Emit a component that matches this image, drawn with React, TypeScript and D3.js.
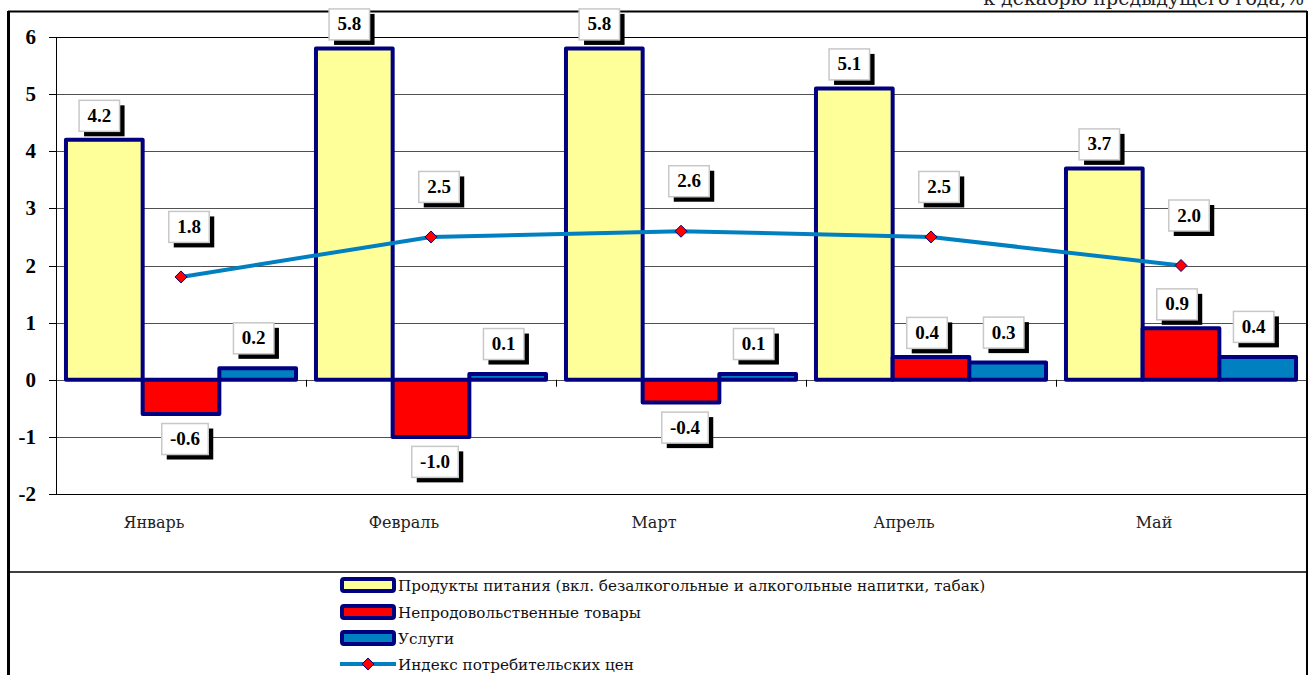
import * as d3 from "d3"

const months = ["Январь", "Февраль", "Март", "Апрель", "Май"]
const food = [4.2, 5.8, 5.8, 5.1, 3.7]
const nonFood = [-0.6, -1.0, -0.4, 0.4, 0.9]
const services = [0.2, 0.1, 0.1, 0.3, 0.4]
const cpi = [1.8, 2.5, 2.6, 2.5, 2.0]
const yTicks = [-2, -1, 0, 1, 2, 3, 4, 5, 6]

const seriesNames = [
  "Продукты питания (вкл. безалкогольные и алкогольные напитки, табак)",
  "Непродовольственные товары",
  "Услуги",
  "Индекс потребительских цен",
]
const subtitle = "к декабрю предыдущего года,%"

const W = 1309
const H = 675
const navy = "#000080"
const barColors = ["#FFFF99", "#FF0000", "#0080C0"]
const lineColor = "#0080C0"
const numFont = "Liberation Serif, Times New Roman, serif"
const textFont = "DejaVu Serif, serif"

// rough width of a bold 19px label
const labelWidth = (s: string) =>
  s.split("").reduce((w, c) => w + (c === "." ? 4.5 : c === "-" ? 6 : 9), 0) + 18

const fmt = (v: number) => d3.format(".1f")(v).replace("\u2212", "-")

function Label({ cx, cy, text }: { cx: number; cy: number; text: string }) {
  const w = labelWidth(text)
  const h = 31
  return (
    <g>
      <rect x={cx - w / 2 + 5} y={cy - h / 2 + 5} width={w} height={h} fill="#000" />
      <rect x={cx - w / 2} y={cy - h / 2} width={w} height={h} fill="#fff" stroke="#c8c8c8" strokeWidth={1.5} />
      <text
        x={cx}
        y={cy + 6}
        textAnchor="middle"
        style={{ fontFamily: numFont, fontWeight: "bold", fontSize: 19 }}
        fill="#000"
      >
        {text}
      </text>
    </g>
  )
}

export default function App() {
  const left = 56
  const right = 1306
  const y = d3.scaleLinear().domain([-2, 6]).range([494, 37])
  const x = d3.scaleBand<string>().domain(months).range([left, right]).paddingInner(0).paddingOuter(0)
  const inner = d3
    .scaleBand<number>()
    .domain([0, 1, 2])
    .range([0, x.bandwidth()])
    .paddingInner(0)
    .paddingOuter(0.13)

  const bars = [food, nonFood, services]
  const cx = (m: string) => (x(m) as number) + x.bandwidth() / 2

  const line = d3
    .line<number>()
    .x((_, i) => cx(months[i]))
    .y((d) => y(d))

  // label placement per series
  const barLabelPos = (s: number, v: number, bx: number) => {
    if (s === 0) return { x: bx - 5, y: y(v) - 24 }
    if (s === 1) return v < 0 ? { x: bx + 4, y: y(v) + 25 } : { x: bx - 4, y: y(v) - 24 }
    return { x: bx - 4, y: y(v) - 30 }
  }

  const legendX = 340
  const legendRows = [585, 612, 638, 664]

  return (
    <div style={{ position: "absolute", left: 0, top: 0, width: W, height: H, background: "#fff" }}>
      <svg width={W} height={H} style={{ display: "block" }}>
        <rect width={W} height={H} fill="#fff" />
        <text x={1304} y={5} textAnchor="end" style={{ fontFamily: textFont, fontSize: 19 }} fill="#222">
          {subtitle}
        </text>

        {/* frame */}
        <line x1={8} x2={1307} y1={11.5} y2={11.5} stroke="#000" strokeWidth={2} />
        <line x1={8.5} x2={8.5} y1={11} y2={H} stroke="#000" strokeWidth={3} />
        <line x1={1307} x2={1307} y1={11} y2={H} stroke="#000" strokeWidth={2} />
        <line x1={10} x2={1307} y1={572} y2={572} stroke="#000" strokeWidth={1.5} />

        {/* gridlines */}
        {yTicks.map((t) => (
          <line
            key={t}
            x1={left}
            x2={right}
            y1={Math.round(y(t)) + 0.5}
            y2={Math.round(y(t)) + 0.5}
            stroke={t === 6 || t === -2 ? "#000" : "#505050"}
            strokeWidth={1}
          />
        ))}
        {yTicks.map((t) => (
          <g key={"t" + t}>
            <line x1={49} x2={left} y1={Math.round(y(t)) + 0.5} y2={Math.round(y(t)) + 0.5} stroke="#000" />
            <text
              x={36}
              y={y(t) + 7}
              textAnchor="end"
              style={{ fontFamily: numFont, fontWeight: "bold", fontSize: 21 }}
              fill="#000"
            >
              {t}
            </text>
          </g>
        ))}
        <line x1={left + 0.5} x2={left + 0.5} y1={y(6)} y2={y(-2)} stroke="#000" />

        {/* category ticks on zero line */}
        {months.slice(1).map((m) => (
          <line key={m} x1={(x(m) as number) + 0.5} x2={(x(m) as number) + 0.5} y1={y(0)} y2={y(0) + 7} stroke="#000" />
        ))}

        {/* bars */}
        {months.map((m, i) =>
          bars.map((vals, s) => {
            const v = vals[i]
            const bx = (x(m) as number) + (inner(s) as number)
            return (
              <rect
                key={m + s}
                x={bx}
                y={Math.min(y(v), y(0))}
                width={inner.bandwidth()}
                height={Math.abs(y(v) - y(0))}
                fill={barColors[s]}
                stroke={navy}
                strokeWidth={4}
                strokeLinejoin="round"
              />
            )
          })
        )}

        {/* CPI line */}
        <path d={line(cpi) as string} fill="none" stroke={lineColor} strokeWidth={4} />
        {cpi.map((v, i) => {
          const px = cx(months[i])
          const py = y(v)
          return (
            <path
              key={i}
              d={`M${px},${py - 6}L${px + 6},${py}L${px},${py + 6}L${px - 6},${py}Z`}
              fill="#FF0000"
              stroke={navy}
              strokeWidth={1}
            />
          )
        })}

        {/* data labels */}
        {months.map((m, i) =>
          bars.map((vals, s) => {
            const v = vals[i]
            const bx = (x(m) as number) + (inner(s) as number) + inner.bandwidth() / 2
            const p = barLabelPos(s, v, bx)
            return <Label key={"l" + m + s} cx={p.x} cy={p.y} text={fmt(v)} />
          })
        )}
        {cpi.map((v, i) => (
          <Label key={"c" + i} cx={cx(months[i]) + 8} cy={y(v) - 50} text={fmt(v)} />
        ))}

        {/* month labels */}
        {months.map((m) => (
          <text
            key={"m" + m}
            x={cx(m) - 27}
            y={528}
            textAnchor="middle"
            style={{ fontFamily: textFont, fontSize: 16 }}
            fill="#222"
          >
            {m}
          </text>
        ))}

        {/* legend */}
        {seriesNames.map((name, i) => {
          const ry = legendRows[i]
          return (
            <g key={name}>
              {i < 3 ? (
                <rect
                  x={legendX + 2}
                  y={ry - 6}
                  width={52}
                  height={12}
                  rx={2}
                  fill={barColors[i]}
                  stroke={navy}
                  strokeWidth={4}
                />
              ) : (
                <g>
                  <line x1={legendX} x2={legendX + 56} y1={ry} y2={ry} stroke={lineColor} strokeWidth={4} />
                  <path
                    d={`M${legendX + 28},${ry - 6}L${legendX + 34},${ry}L${legendX + 28},${ry + 6}L${legendX + 22},${ry}Z`}
                    fill="#FF0000"
                    stroke={navy}
                    strokeWidth={1}
                  />
                </g>
              )}
              <text x={legendX + 58} y={ry + 6} style={{ fontFamily: textFont, fontSize: 15.2 }} fill="#111">
                {name}
              </text>
            </g>
          )
        })}
      </svg>
    </div>
  )
}
